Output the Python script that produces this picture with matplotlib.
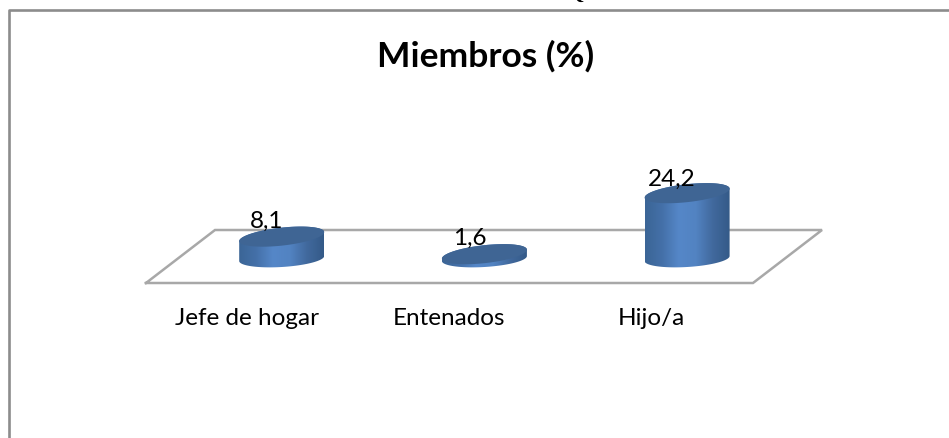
import numpy as np
import matplotlib
matplotlib.use('Agg')
import matplotlib.pyplot as plt
from matplotlib.colors import LinearSegmentedColormap
from matplotlib.patches import Polygon

categorias = ['Jefe de hogar', 'Entenados', 'Hijo/a']
valores = [8.1, 1.6, 24.2]
etiquetas = ['8,1', '1,6', '24,2']
titulo = 'Miembros (%)'

W, H = 949, 439
# escala: categoria 0 en x=281.7px, 202.7px por categoria; valor 0 en y=259.5px, 2.7px por unidad
X0, DX = 281.7, 202.7
Y0, DY = 259.5, 2.7

plt.rcParams['font.family'] = ['Lato', 'DejaVu Sans']

fig = plt.figure(figsize=(W / 100, H / 100), dpi=100, facecolor='white')
ax = fig.add_axes([0, 0, 1, 1])
ax.set_xlim(-X0 / DX, (W - X0) / DX)
ax.set_ylim((Y0 - H) / DY, Y0 / DY)
ax.axis('off')

def px(x, y):
    # pixeles de la imagen a coordenadas de datos
    return (np.asarray(x) - X0) / DX, (Y0 - np.asarray(y)) / DY

def elipse(cx, cy, a, b, s, t):
    return cx + a * np.cos(t), cy + b * np.sin(t) - s * np.cos(t)

# marco
fx, fy = px([9, 9, W], [H, 11, 11])
ax.plot(fx, fy, color='#8c8c8c', lw=1.9, zorder=1, solid_capstyle='butt')

# piso
fx, fy = px([146, 753, 822, 215, 146], [284, 284, 231, 231, 284])
ax.plot(fx, fy, color='#a8a8a8', lw=1.8, zorder=1, solid_joinstyle='miter')

cmap = LinearSegmentedColormap.from_list('cil', ['#3b6596', '#4470a8', '#5587c8', '#5283c2', '#41699d', '#345a88'])
grad = np.linspace(0, 1, 256).reshape(1, -1)
a = 42.5
for i, v in enumerate(valores):
    cx = X0 + DX * i
    base = Y0
    tope = Y0 - DY * v
    t1 = np.linspace(0, np.pi, 80)
    t2 = np.linspace(np.pi, 2 * np.pi, 80)
    xb, yb = elipse(cx, base, a, 8.5, 2.5, t1)
    xt, yt = elipse(cx, tope, a, 9, 4.5, t2)
    dx, dy = px(np.r_[xb, xt], np.r_[yb, yt])
    cuerpo = Polygon(np.c_[dx, dy], closed=True, transform=ax.transData, fc='none', ec='none')
    ax.add_patch(cuerpo)
    e0, _ = px(cx - a, 0)
    e1, _ = px(cx + a, 0)
    _, ytop = px(0, tope - 11)
    _, ybot = px(0, base + 10)
    im = ax.imshow(grad, cmap=cmap, extent=[e0, e1, ybot, ytop], aspect='auto', zorder=2, interpolation='bilinear')
    im.set_clip_path(cuerpo)
    # tapa superior
    t = np.linspace(0, 2 * np.pi, 160)
    xc, yc = elipse(cx, tope, a, 9, 4.5, t)
    dx, dy = px(xc, yc)
    ax.fill(dx, dy, color='#3f6594', lw=0, zorder=3)

ax.set_xlim(-X0 / DX, (W - X0) / DX)
ax.set_ylim((Y0 - H) / DY, Y0 / DY)

# etiquetas de valor
off = [(267, 228), (470, 245), (672, 186)]
for (ox, oy), txt in zip(off, etiquetas):
    tx, ty = px(ox, oy)
    ax.text(tx, ty, txt, fontsize=17.5, ha='center', va='baseline', color='black', zorder=5)

# categorias
cpos = [247, 449, 651]
for ox, txt in zip(cpos, categorias):
    tx, ty = px(ox, 325)
    ax.text(tx, ty, txt, fontsize=17.5, ha='center', va='baseline', color='black', zorder=5)

# titulo
tx, ty = px(486, 67)
ax.text(tx, ty, titulo, fontsize=25.5, fontweight='bold', ha='center', va='baseline', color='black', zorder=5)

# resto de texto cortado arriba
tx, ty = px(576, -1)
ax.text(tx, ty, 'Q', fontsize=15, fontweight='bold', family=['Liberation Serif', 'DejaVu Serif'], ha='center', va='baseline', color='black', clip_on=True)

fig.savefig('out.png', dpi=100)
